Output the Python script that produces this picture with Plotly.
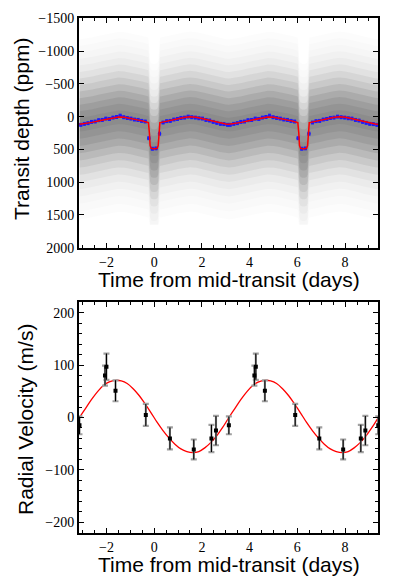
import plotly.graph_objects as go

# ---------------- data ----------------
PERIOD = 6.26            # days, orbital period (phase-folded data shown twice)
X_RANGE = [-3.15, 9.38]

# photometric model (red line), one orbit in phase (days from mid-transit), ppm
phot_phase = [-3.13, -2.9, -2.6, -2.3, -2.0, -1.75, -1.5, -1.25, -1.0, -0.75, -0.5,
              -0.3, -0.24, -0.2, -0.17, -0.13, -0.05, 0.05, 0.13, 0.17, 0.2, 0.24,
              0.3, 0.5, 0.75, 1.0, 1.25, 1.5, 1.75, 2.0, 2.25, 2.5, 2.75, 3.0, 3.13]
phot_model = [118, 108, 88, 62, 38, 18, 5, 10, 25, 45, 65,
              85, 92, 250, 440, 480, 492, 492, 480, 440, 250, 92,
              88, 72, 52, 30, 12, 2, 10, 30, 52, 75, 98, 114, 118]

# binned photometry (blue), ppm
bin_phase = [-3.075, -2.925, -2.775, -2.625, -2.475, -2.325, -2.175, -2.025, -1.875,
             -1.725, -1.575, -1.425, -1.275, -1.125, -0.975, -0.825, -0.675, -0.525,
             -0.375, -0.225, -0.075, 0.075, 0.225, 0.375, 0.525, 0.675, 0.825, 0.975,
             1.125, 1.275, 1.425, 1.575, 1.725, 1.875, 2.025, 2.175, 2.325, 2.475,
             2.625, 2.775, 2.925, 3.075]
bin_depth = [125, 110, 100, 80, 75, 55, 50, 30, 35,
             15, 5, -15, 10, 20, 30, 45, 50, 65,
             75, 330, 490, 485, 260, 90, 70, 65, 45, 35,
             20, 15, 0, 10, 15, 25, 30, 50, 60, 80,
             95, 110, 115, 125]
bin_err = 22

# scatter cloud of unbinned photometry: envelope half-widths (ppm) above / below
# the model and the shading of each envelope
cloud_up = [1300, 1200, 1100, 1000, 900, 800, 700, 600, 500, 400, 300, 200, 100]
cloud_dn = [1450, 1330, 1210, 1100, 990, 880, 770, 660, 550, 440, 330, 220, 110]
cloud_alpha = [0.010, 0.010, 0.012, 0.018, 0.024, 0.036, 0.050, 0.060, 0.075,
               0.080, 0.070, 0.058, 0.050]
cloud_floor = 1650       # faintest in-transit points reach about this depth

# radial velocities (m/s)
rv_phase = [-2.06, -2.0, -1.62, -0.35, 0.66, 1.66, 2.4, 2.59, 3.13]
rv_vel = [80, 97, 51, 5, -40, -61, -40, -25, -15]
rv_err = [19, 25, 20, 21, 21, 19, 26, 28, 17]

# RV model (red)
rvm_phase = [-3.13, -2.88, -2.63, -2.38, -2.13, -1.88, -1.63, -1.38, -1.13, -0.88,
             -0.63, -0.38, -0.13, 0.12, 0.37, 0.62, 0.87, 1.12, 1.37, 1.62, 1.87,
             2.12, 2.37, 2.62, 2.87, 3.13]
rvm_vel = [0, 17, 34, 49, 61, 68, 71, 70, 65, 55,
           42, 26, 9, -9, -25, -39, -51, -60, -65, -67, -65,
           -58, -48, -35, -19, 0]

top_ticks = [-1500, -1000, -500, 0, 500, 1000, 1500, 2000]
rv_ticks = [-200, -100, 0, 100, 200]
x_ticks = [-2, 0, 2, 4, 6, 8]


def unfold(phase, vals, cycles):
    xs, ys = [], []
    for k in cycles:
        xs += [p + k * PERIOD for p in phase]
        ys += list(vals)
    return xs, ys


fig = go.Figure()

# ---- top panel: cloud bands ----
mx, my = unfold(phot_phase, phot_model, [0, 1])
for up, dn, a in zip(cloud_up, cloud_dn, cloud_alpha):
    upper = [v - up for v in my]
    lower = [min(v + dn, cloud_floor) for v in my]
    fig.add_trace(go.Scatter(
        x=mx + mx[::-1], y=upper + lower[::-1], fill="toself",
        fillcolor=f"rgba(0,0,0,{a})", line=dict(width=0), mode="lines",
        hoverinfo="skip", showlegend=False, xaxis="x", yaxis="y"))

bx, by = unfold(bin_phase, bin_depth, [0, 1])
fig.add_trace(go.Scatter(
    x=bx, y=by, mode="markers",
    marker=dict(symbol="square", size=3, color="#1a1aff"),
    error_x=dict(type="constant", value=0.07, color="#1a1aff", thickness=1.3, width=0),
    error_y=dict(type="constant", value=bin_err, color="#1a1aff", thickness=1, width=1.5),
    showlegend=False, xaxis="x", yaxis="y"))

fig.add_trace(go.Scatter(
    x=mx, y=my, mode="lines", line=dict(color="#ff0000", width=1.5),
    showlegend=False, xaxis="x", yaxis="y"))

# ---- bottom panel: RV ----
rmx, rmy = unfold(rvm_phase, rvm_vel, [-1, 0, 1])
fig.add_trace(go.Scatter(
    x=rmx, y=rmy, mode="lines", line=dict(color="#ff0000", width=1.3, shape="spline"),
    showlegend=False, xaxis="x2", yaxis="y2"))

rx, ry = unfold(rv_phase, rv_vel, [-1, 0, 1])
_, re = unfold(rv_phase, rv_err, [-1, 0, 1])
fig.add_trace(go.Scatter(
    x=rx, y=ry, mode="markers", marker=dict(size=1, color="rgba(0,0,0,0)"),
    error_y=dict(type="data", array=re, color="#a0a0a0", thickness=2.2, width=3),
    showlegend=False, xaxis="x2", yaxis="y2"))
fig.add_trace(go.Scatter(
    x=rx, y=ry, mode="markers", marker=dict(symbol="square", size=4, color="black"),
    error_y=dict(type="data", array=re, color="black", thickness=1.1, width=0),
    showlegend=False, xaxis="x2", yaxis="y2"))

tickfont = dict(family="Liberation Serif", size=14, color="black")
common = dict(showline=True, linewidth=2, linecolor="black", mirror="allticks",
              ticks="inside", ticklen=5, tickwidth=1, tickcolor="black",
              showgrid=False, zeroline=False, tickfont=tickfont, automargin=False)
xdom = [79 / 398, 378 / 398]

fig.update_layout(
    width=398, height=582,
    margin=dict(l=0, r=0, t=0, b=0, autoexpand=False),
    paper_bgcolor="white", plot_bgcolor="white",
    xaxis=dict(domain=xdom, range=X_RANGE, anchor="y", tickvals=x_ticks,
               minor=dict(dtick=0.5, tick0=0, ticks="inside", ticklen=3, tickcolor="black"),
               **common),
    yaxis=dict(domain=[1 - 247.7 / 582, 1 - 18.3 / 582], range=[2000, -1500],
               anchor="x", tickvals=top_ticks, **common),
    xaxis2=dict(domain=xdom, range=X_RANGE, anchor="y2", tickvals=x_ticks,
                minor=dict(dtick=0.5, tick0=0, ticks="inside", ticklen=3, tickcolor="black"),
                **common),
    yaxis2=dict(domain=[1 - 532.7 / 582, 1 - 302.3 / 582], range=[-220, 220],
                anchor="x2", tickvals=rv_ticks,
                minor=dict(dtick=20, tick0=0, ticks="inside", ticklen=3, tickcolor="black"),
                **common),
)

titlefont = dict(family="Liberation Sans", size=21, color="black")
ann = [
    dict(text="Transit depth (ppm)", x=21 / 398, y=1 - 129 / 582, textangle=-90),
    dict(text="Time from mid-transit (days)", x=228.5 / 398, y=1 - 279 / 582, textangle=0),
    dict(text="Radial Velocity (m/s)", x=25 / 398, y=1 - 420 / 582, textangle=-90),
    dict(text="Time from mid-transit (days)", x=228.5 / 398, y=1 - 564 / 582, textangle=0),
]
for a in ann:
    fig.add_annotation(xref="paper", yref="paper", showarrow=False,
                       xanchor="center", yanchor="middle", font=titlefont, **a)

fig.write_html("out.html", config={"displayModeBar": False},
               post_script="document.body.style.margin='0';document.body.style.overflow='hidden';")
